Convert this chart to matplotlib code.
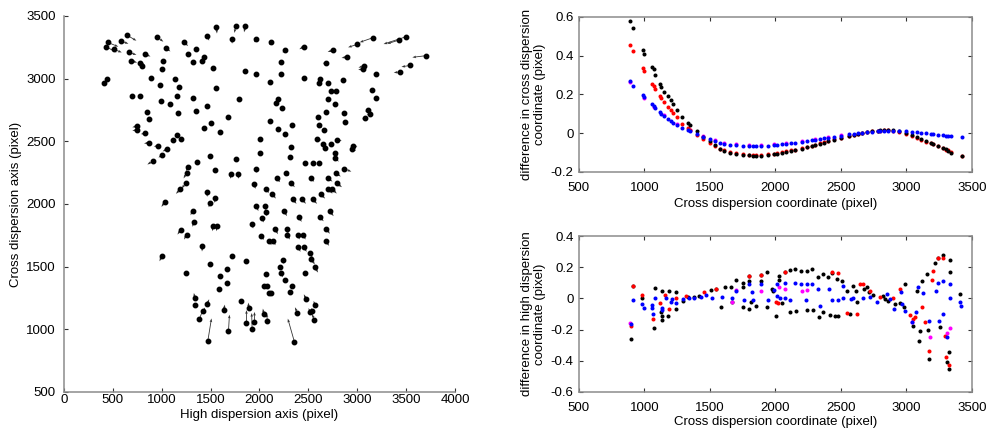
import numpy as np
import matplotlib
matplotlib.use("Agg")
import matplotlib.pyplot as plt
from matplotlib.ticker import FuncFormatter, MultipleLocator

plt.rcParams["font.family"] = ["Liberation Sans", "DejaVu Sans"]
plt.rcParams["font.size"] = 9

# ---------------- left panel: line positions and distortion vectors ----------------
# high dispersion position, cross dispersion position, vector components (pixel)
hd_pos = [
    641, 446, 429, 579, 511, 661, 688, 777, 794, 825, 947, 1039, 1230, 412, 436,
    1465, 1560, 1758, 1857, 1720, 1962, 2123, 2266, 2453, 2753, 2900,
    3002, 3162, 3502, 3427, 3700, 3543, 3434, 3196, 3073, 3060, 2678,
    1349, 1315, 1264, 1431, 1417, 1526, 1012, 998, 886, 982, 1138, 1179, 1152, 1083, 995,
    1169, 1322, 1349, 1468, 1554, 1850, 1962, 2218, 2225, 2112, 1792, 1680, 1595, 1503,
    1431, 2167, 2194, 2235, 2112, 2187, 2259, 2334, 2010, 2010, 695, 777, 845, 869,
    2457, 2623, 2606, 2702, 2855, 3152, 3196, 2729, 2787, 2702, 2777, 2685, 2865, 2872,
    3111, 3127, 3080, 2600, 2610, 2661,
    2593, 2651, 2668, 2736, 2797, 2947, 2957, 2770, 2777, 2865, 2787, 2702, 2794, 2702,
    2746, 2627, 2549, 2463, 2549, 2606, 2525, 2440, 2617, 2719, 2685, 2678, 2402, 2344,
    2310, 2320, 2269, 2327, 2252, 2177, 2064, 2133, 1969, 2054, 2065, 2031, 1925, 2020,
    2099, 2140, 2160, 2283, 2286, 2395, 2447, 2395, 2453, 2514, 2531, 2565, 2463, 2242,
    2208, 2225, 2259, 2334, 2310, 2071, 2048, 2082, 2099, 2120, 1942, 1962,
    1867, 1724, 1663, 1663, 1601, 1581, 1499, 1247, 1002, 1417, 1254, 1196, 1329, 1315,
    1520, 1561, 1499, 1543, 1465, 1244, 1186, 1254, 1271, 1356, 1032, 1492, 1540, 1704,
    1785, 1765, 749, 749, 831, 869, 964, 1049, 1002, 913, 1118, 1152, 1196,
    1339, 1339, 1465, 1424, 1383, 1636, 1806, 1888, 1867, 1925, 1949, 2045, 2082, 1683,
    1472, 2358, 2388, 2474, 2521, 2569, 2562, 2541,
]
cd_pos = [
    3348, 3290, 3255, 3303, 3234, 3210, 3143, 3127, 3100, 3197, 3335, 3247, 3290, 2962, 2997,
    3343, 3415, 3420, 3420, 3314, 3319, 3290, 3228, 3255, 3228, 3175,
    3274, 3327, 3335, 3308, 3183, 3106, 3053, 3037, 3103, 3076, 3127,
    3234, 3135, 3197, 3170, 3141, 3082, 3143, 3077, 3008, 2949, 2994, 2936, 2864, 2795, 2824,
    2728, 2843, 2744, 2781, 2922, 3061, 3034, 3130, 3037, 2970, 2834, 2691, 2576, 2648,
    2608, 2803, 2837, 2768, 2664, 2595, 2558, 2630, 2515, 2403, 2861, 2864, 2736, 2675,
    3002, 2997, 2968, 2962, 2989, 2909, 2843, 2904, 2901, 2835, 2797, 2731, 2723, 2653,
    2749, 2715, 2683, 2696, 2627, 2590,
    2515, 2478, 2449, 2478, 2510, 2438, 2464, 2409, 2363, 2283, 2244, 2204, 2164, 2118,
    2118, 2078, 2036, 2329, 2331, 2331, 2207, 2036, 1897, 1943, 1802, 1706, 1897, 2036,
    2371, 2451, 2249, 2164, 1943, 2204, 2118, 2078, 1983, 1983, 1938, 1892, 1844, 1748,
    1706, 1706, 1799, 1802, 1756, 1756, 1756, 1658, 1658, 1610, 1562, 1498, 1450, 1557,
    1498, 1450, 1397, 1346, 1299, 1445, 1344, 1344, 1293, 1293, 2156, 2283,
    1543, 1586, 1480, 1373, 1426, 1320, 1519, 1450, 1583, 1666, 1756, 1796, 1858, 1945,
    1823, 1823, 2009, 2049, 2092, 2164, 2116, 2249, 2292, 2337, 2017, 2385, 2270, 2236,
    2236, 2358, 2622, 2590, 2563, 2488, 2464, 2435, 2390, 2345, 2510, 2550, 2515,
    1250, 1192, 1200, 1144, 1080, 1157, 1224, 1173, 1053, 1000, 1059, 1120, 1067, 987,
    909, 899, 1131, 1245, 1139, 1192, 1077, 1150,
]
vec_u = [
    100, 110, 110, 80, 80, 80, 60, 50, 30, 60, 70, 50, 40, 10, 10,
    20, 5, -15, -15, 0, -15, -25, -30, -45, -55, -60,
    -95, -136, -232, -120, -136, -90, -60, -30, -60, -50, -30,
    0, 5, 5, 0, 0, 0, 5, 0, 0, 0, 0, 0, 0, 0, 0,
    0, 0, 0, 0, 0, 0, 0, -5, -5, 0, 0, 0, 0, 0,
    0, 0, 0, 0, 0, 0, 5, 5, 0, 0, 0, 0, 0, 0,
    -10, -10, -10, -5, -10, -5, -5, 0, 0, 5, 5, 5, 5, 30,
    -30, -30, -30, 5, 30, 25,
    40, 30, 30, 30, 45, 40, 45, 35, 35, 75, 45, 45, 50, 45,
    45, 45, 40, 30, 25, 30, 35, 35, 40, 40, 35, 35, 30, 35,
    35, 30, 35, 35, 30, 35, 35, 35, 20, 15, 10, 10, 10, 25,
    25, 25, 30, 10, 25, 15, 25, 25, 30, 30, 35, 35, 0, 5,
    5, 15, 10, 0, 0, 0, 0, 0, 0, 0, 20, 10,
    0, 0, 0, 0, 0, 0, 0, 0, -25, -5, -25, -35, -15, -20,
    0, 0, -20, 0, 0, -40, -40, -30, -25, -10, -35, 0, -5, 0,
    0, 0, -50, -50, -45, -50, -45, -40, -35, -60, -10, -5, 0,
    -10, 0, 20, 20, 45, 10, 0, 0, 0, -5, 0, -10, -10, 10,
    37, -68, -25, -20, -20, -15, -25, -10,
]
vec_v = [
    -45, -35, -45, -25, -25, -20, -15, -15, -20, -20, -40, -30, -30, -15, -15,
    -40, -55, -55, -50, -35, -30, -20, -20, -20, -15, -10,
    -24, -37, -59, -30, -13, -12, -5, 0, -15, -5, -5,
    -15, -15, -15, -20, -15, -10, -15, -10, -10, -10, -10, -10, -10, -10, -10,
    -10, -5, -5, -10, -10, -5, -5, -10, -5, -5, -5, -5, -5, -5,
    -5, -5, -5, -5, -5, -5, -5, -5, -5, -5, -5, -5, -10, -10,
    -5, -10, -5, -5, 0, -10, 0, 0, 0, -5, -5, -5, -5, -5,
    -10, -5, -5, -5, -20, -10,
    -5, -10, -15, -5, -5, -15, -5, -25, -25, -25, -25, -25, -30, -35,
    -35, -35, -35, -10, -5, -10, -30, -35, -35, -40, -40, -40, -40, -35,
    -10, -5, -25, -30, -40, -30, -30, -35, -40, -35, -35, -40, -40, -35,
    -35, -35, -40, -40, -40, -40, -40, -40, -40, -40, -45, -45, -10, -35,
    -20, -35, -10, -10, -10, -10, -5, -5, -5, -5, -35, -35,
    -20, -20, -10, -10, -5, -5, -15, -5, -40, -45, -40, -40, -40, -35,
    -40, -40, -35, -40, -35, -40, -35, -45, -30, -15, -40, -10, -20, -35,
    -35, -15, -10, -5, -5, -5, -5, -15, -20, -30, -5, -5, -5,
    40, 10, 40, 30, 85, 40, 10, 40, 100, 130, 80, 45, 60, 130,
    178, 186, 45, 35, 30, 35, 45, 20,
]

# ---------------- upper right: cross dispersion residuals ----------------
cd_top_x = [890, 910, 990, 1000, 1060, 1070, 1080, 1120, 1130, 1150, 1180, 1200, 1220, 1250,
            1290, 1330, 1350, 1400, 1450, 1500, 1540, 1580, 1610, 1650, 1700, 1750, 1800,
            1830, 1850, 1890, 1940, 1990, 2010, 2050, 2080, 2120, 2150, 2200, 2240, 2280,
            2300, 2340, 2370, 2400, 2450, 2500, 2560, 2600, 2630, 2660, 2700, 2740, 2780,
            2800, 2830, 2860, 2900, 2940, 3000, 3040, 3080, 3110, 3150, 3190, 3200, 3240,
            3280, 3300, 3320, 3340, 3420]
cd_top_black = [0.58, 0.545, 0.43, 0.41, 0.34, 0.33, 0.30, 0.255, 0.24, 0.215, 0.19, 0.17, 0.15, 0.12,
                0.085, 0.055, 0.04, 0.01, -0.02, -0.04, -0.06, -0.08, -0.09, -0.10, -0.105, -0.11, -0.113,
                -0.115, -0.115, -0.115, -0.112, -0.108, -0.105, -0.10, -0.097, -0.092, -0.088, -0.08, -0.073, -0.066,
                -0.062, -0.055, -0.048, -0.042, -0.033, -0.024, -0.014, -0.008, -0.004, 0.0, 0.006, 0.01, 0.013,
                0.015, 0.017, 0.017, 0.015, 0.01, 0.0, -0.01, -0.02, -0.03, -0.04, -0.05, -0.055, -0.065,
                -0.075, -0.082, -0.09, -0.10, -0.12]
cd_top_red = [0.455, 0.425, 0.335, 0.32, 0.255, 0.245, 0.23, 0.19, 0.18, 0.16, 0.135, 0.12, 0.105, 0.085,
              0.05, 0.025, 0.015, -0.01, -0.03, -0.05, -0.065, -0.08, -0.088, -0.097, -0.102, -0.107, -0.11,
              -0.111, -0.112, -0.112, -0.109, -0.105, -0.102, -0.097, -0.094, -0.089, -0.085, -0.078, -0.071, -0.064,
              -0.06, -0.053, -0.047, -0.041, -0.032, -0.023, -0.013, -0.007, -0.003, 0.001, 0.006, 0.01, 0.013,
              0.014, 0.016, 0.016, 0.013, 0.008, -0.003, -0.013, -0.023, -0.033, -0.043, -0.053, -0.058, -0.067,
              -0.077, -0.084, -0.088, -0.097, -0.118]
cd_top_blue = [0.27, 0.245, 0.195, 0.185, 0.15, 0.14, 0.13, 0.11, 0.10, 0.09, 0.075, 0.065, 0.055, 0.045,
               0.028, 0.015, 0.01, -0.005, -0.02, -0.032, -0.042, -0.05, -0.055, -0.06, -0.063, -0.066, -0.067,
               -0.068, -0.068, -0.067, -0.065, -0.062, -0.06, -0.057, -0.055, -0.052, -0.05, -0.045, -0.041, -0.037,
               -0.035, -0.03, -0.027, -0.024, -0.018, -0.012, -0.006, -0.002, 0.0, 0.003, 0.006, 0.008, 0.01,
               0.011, 0.012, 0.012, 0.012, 0.011, 0.009, 0.007, 0.005, 0.003, 0.0, -0.003, -0.004, -0.007,
               -0.01, -0.012, -0.013, -0.015, -0.02]
cd_top_mag_x = [890, 1000, 1070, 1150, 1250, 1350, 1450, 1540, 1610, 1700, 1800, 1890, 1990, 2080,
                2200, 2300, 2400, 2500]
cd_top_mag = [0.262, 0.18, 0.136, 0.094, 0.05, 0.016, -0.014, -0.036, -0.048, -0.057, -0.061, -0.061,
              -0.056, -0.049, -0.04, -0.03, -0.02, -0.009]

# ---------------- lower right: high dispersion residuals ----------------
hd_bot_black_x = [895, 910, 983, 1072, 1080, 1128, 1131, 1131, 1136, 1187, 1182, 1243, 1238, 1294,
                  1330, 1380, 1420, 1505, 1548, 1582, 1612, 1658, 1665, 1701, 1752, 1752, 1752, 1798,
                  1798, 1810, 1800, 1854, 1887, 1887, 1938, 1938, 1970, 2007, 1978, 2027, 2027, 2047,
                  2073, 2110, 2110, 2151, 2156, 2195, 2238, 2238, 2276, 2284, 2322, 2335, 2360, 2365,
                  2404, 2416, 2429, 2454, 2467, 2480, 2505, 2543, 2569, 2589, 2615, 2625, 2676, 2696,
                  2716, 2747, 2823, 2836, 2862, 2912, 2989, 2981, 3047, 3078, 3098, 3116, 3154, 3167,
                  3175, 3218, 3243, 3256, 3276, 3307, 3327, 3332, 3332, 3327, 3408, 3100, 2950]
hd_bot_black = [-0.26, 0.08, 0.003, -0.19, 0.064, -0.09, -0.115, -0.14, 0.05, 0.05, -0.115, 0.04, -0.07, -0.015,
                0.01, 0.01, 0.015, 0.055, 0.06, -0.058, 0.075, 0.075, -0.025, 0.12, 0.10, 0.075, -0.058, 0.145,
                0.11, -0.02, -0.068, -0.05, 0.15, 0.11, 0.17, -0.058, 0.06, -0.115, 0.05, 0.145, 0.118, -0.028,
                0.167, 0.184, -0.09, 0.188, -0.08, 0.178, 0.178, -0.075, 0.19, -0.075, 0.135, -0.122, 0.156, -0.09,
                0.135, -0.105, 0.16, -0.11, 0.124, -0.11, 0.113, 0.05, -0.10, 0.08, 0.045, -0.026, 0.06, 0.075,
                0.04, 0.024, 0.017, -0.004, -0.015, -0.036, 0.092, -0.058, -0.175, 0.05, -0.276, 0.113, 0.156, -0.20,
                -0.389, 0.225, 0.26, -0.186, 0.28, -0.41, -0.453, 0.246, 0.167, -0.346, 0.028, -0.21, -0.03]
hd_bot_red_x = [895, 910, 983, 1065, 1120, 1160, 1187, 1243, 1320, 1454, 1548, 1798, 1887, 2007,
                2017, 2073, 2429, 2480, 2548, 2625, 2645, 2665, 2721, 2798, 2950, 3027, 3052, 3065,
                3118, 3175, 3192, 3205, 3243, 3281, 3294, 3302, 3327, 2900, 3140]
hd_bot_red = [-0.18, 0.08, 0.023, -0.13, -0.03, 0.02, -0.068, 0.0, 0.015, 0.04, 0.06, 0.145, 0.15, -0.025,
              -0.03, 0.167, 0.167, 0.16, -0.096, -0.10, 0.092, 0.092, 0.05, 0.01, 0.06, -0.105, -0.13, -0.12,
              -0.058, -0.336, 0.118, 0.178, 0.26, 0.26, -0.24, -0.375, -0.43, 0.0, -0.15]
hd_bot_mag_x = [890, 1665, 1700, 1890, 2027, 2073, 2200, 2243, 3180, 3307, 3332, 3040]
hd_bot_mag = [-0.16, -0.025, 0.055, 0.05, 0.075, 0.06, 0.05, 0.055, -0.246, -0.224, -0.192, -0.15]
hd_bot_blue_x = [895, 910, 983, 996, 1055, 1055, 1065, 1080, 1136, 1136, 1165, 1200, 1213, 1243,
                 1294, 1340, 1380, 1430, 1470, 1518, 1590, 1665, 1700, 1760, 1798, 1820, 1832, 1887,
                 1945, 1985, 2008, 2009, 2034, 2073, 2073, 2110, 2151, 2195, 2233, 2243, 2276, 2322,
                 2340, 2411, 2429, 2474, 2513, 2518, 2574, 2594, 2670, 2721, 2772, 2849, 2874, 2905,
                 2955, 2963, 2989, 3040, 3073, 3090, 3129, 3175, 3225, 3243, 3251, 3281, 3281, 3312,
                 3332, 3332, 3408, 3414]
hd_bot_blue = [-0.165, -0.008, -0.036, -0.064, -0.04, -0.06, -0.10, 0.0, -0.06, -0.075, 0.0, -0.025, -0.005, -0.03,
               -0.005, 0.005, 0.0, 0.01, 0.02, 0.0, 0.01, 0.0, 0.05, -0.01, 0.09, 0.04, -0.01, 0.09,
               -0.01, 0.055, 0.017, 0.09, 0.0, 0.096, 0.0, -0.01, 0.10, 0.092, -0.01, 0.09, 0.09, 0.06,
               -0.047, 0.06, -0.01, -0.01, 0.077, 0.0, -0.004, 0.0, 0.0, 0.01, -0.026, 0.028, -0.005, -0.07,
               0.04, -0.036, -0.08, -0.154, -0.09, 0.07, 0.032, -0.143, 0.05, 0.10, -0.143, 0.11, -0.10, -0.25,
               0.092, 0.0, -0.02, -0.047]

SPINE = "#8c8c8c"


def style_box(ax, full=True, xpad=6, ypad=6):
    for side in ["left", "bottom", "top", "right"]:
        ax.spines[side].set_color(SPINE)
        ax.spines[side].set_linewidth(1.1)
    if not full:
        ax.spines["top"].set_visible(False)
        ax.spines["right"].set_visible(False)
    ax.tick_params(direction="in", length=3, width=0.8, color="#333333",
                   top=full, right=full, labelsize=9.5)
    ax.tick_params(axis="x", pad=xpad)
    ax.tick_params(axis="y", pad=ypad)


fmt = FuncFormatter(lambda v, p: f"{v:g}")

fig = plt.figure(figsize=(9.89, 4.32), dpi=100)

# left panel
ax1 = fig.add_axes([0.0647, 0.0926, 0.3953, 0.8704])
ax1.quiver(hd_pos, cd_pos, vec_u, vec_v, angles="xy", scale_units="xy", scale=1,
           color="#333333", width=0.0021, headwidth=3.2, headlength=4.5, headaxislength=4,
           zorder=2)
ax1.plot(hd_pos, cd_pos, "o", ms=3.2, color="black", mec="black", zorder=3)
ax1.set_xlim(0, 4000)
ax1.set_ylim(500, 3500)
ax1.xaxis.set_major_locator(MultipleLocator(500))
ax1.yaxis.set_major_locator(MultipleLocator(500))
style_box(ax1, full=False, xpad=1.5, ypad=6)
ax1.set_xlabel("High dispersion axis (pixel)", fontsize=9.5, labelpad=2)
ax1.set_ylabel("Cross dispersion axis (pixel)", fontsize=9.5, labelpad=3)

# upper right panel
ax2 = fig.add_axes([0.5854, 0.6019, 0.3974, 0.3588])
ms = 2.9
ax2.plot(cd_top_mag_x, cd_top_mag, "o", ms=ms, color="magenta", mec="none")
ax2.plot(cd_top_x, cd_top_red, "o", ms=ms, color="red", mec="none")
ax2.plot(cd_top_x, cd_top_black, "o", ms=ms, color="black", mec="none")
ax2.plot(cd_top_x, cd_top_blue, "o", ms=ms, color="blue", mec="none")
ax2.set_xlim(500, 3500)
ax2.set_ylim(-0.2, 0.6)
ax2.xaxis.set_major_locator(MultipleLocator(500))
ax2.yaxis.set_major_locator(MultipleLocator(0.2))
ax2.yaxis.set_major_formatter(fmt)
style_box(ax2, xpad=7, ypad=4)
ax2.set_xlabel("Cross dispersion coordinate (pixel)", fontsize=9.5, labelpad=3)
ax2.set_ylabel("difference in cross dispersion\ncoordinate (pixel)", fontsize=9.5, labelpad=3)

# lower right panel
ax3 = fig.add_axes([0.5854, 0.0926, 0.3974, 0.3611])
ax3.plot(hd_bot_black_x, hd_bot_black, "o", ms=ms, color="black", mec="none")
ax3.plot(hd_bot_red_x, hd_bot_red, "o", ms=ms, color="red", mec="none")
ax3.plot(hd_bot_mag_x, hd_bot_mag, "o", ms=ms, color="magenta", mec="none")
ax3.plot(hd_bot_blue_x, hd_bot_blue, "o", ms=ms, color="blue", mec="none")
ax3.set_xlim(500, 3500)
ax3.set_ylim(-0.6, 0.4)
ax3.xaxis.set_major_locator(MultipleLocator(500))
ax3.yaxis.set_major_locator(MultipleLocator(0.2))
ax3.yaxis.set_major_formatter(fmt)
style_box(ax3, xpad=7, ypad=4)
ax3.set_xlabel("Cross dispersion coordinate (pixel)", fontsize=9.5, labelpad=2)
ax3.set_ylabel("difference in high dispersion\ncoordinate (pixel)", fontsize=9.5, labelpad=3)

fig.savefig("out.png", dpi=100)
